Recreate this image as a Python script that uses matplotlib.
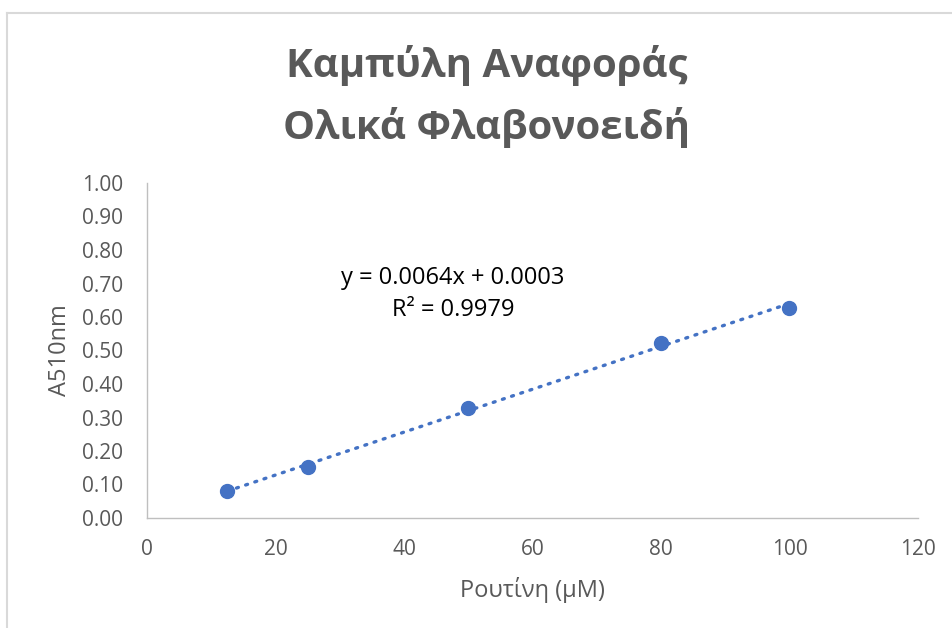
import numpy as np
import matplotlib
matplotlib.use("Agg")
import matplotlib.pyplot as plt
from matplotlib.lines import Line2D

plt.rcParams['font.family'] = ['Open Sans', 'DejaVu Sans']

# Calibration data: rutin concentration vs absorbance at 510 nm
concentration = [12.5, 25, 50, 80, 100]
absorbance = [0.080, 0.153, 0.328, 0.523, 0.628]

# Linear trendline parameters
slope = 0.0064
intercept = 0.0003
r_squared = 0.9979

x_ticks = [0, 20, 40, 60, 80, 100, 120]
y_ticks = [0.0, 0.1, 0.2, 0.3, 0.4, 0.5, 0.6, 0.7, 0.8, 0.9, 1.0]

title_lines = ["Καμπύλη Αναφοράς", "Ολικά Φλαβονοειδή"]
x_label = "Ρουτίνη (μΜ)"
y_label = "A510nm"

blue = "#4472C4"
grey_text = "#595959"
axis_grey = "#BFBFBF"

W, H = 953, 628
fig = plt.figure(figsize=(W / 100, H / 100), dpi=100)
ax = fig.add_axes([147 / W, 1 - 518 / H, (918 - 147) / W, (518 - 183) / H])

# Trendline
xt = np.array([min(concentration), max(concentration)])
ax.plot(xt, slope * xt + intercept, linestyle=(0, (0.6, 2.3)), color=blue,
        linewidth=2.4, dash_capstyle='round', zorder=2)

# Data points
ax.plot(concentration, absorbance, linestyle='none', marker='o', markersize=10,
        color=blue, zorder=3)

ax.set_xlim(0, 120)
ax.set_ylim(0, 1.0)
ax.set_xticks(x_ticks)
ax.set_yticks(y_ticks)
ax.set_yticklabels([f"{v:.2f}" for v in y_ticks])
ax.tick_params(axis='both', length=0, labelsize=15, colors=grey_text)
ax.tick_params(axis='x', pad=15)
ax.tick_params(axis='y', pad=17)

for side in ['top', 'right']:
    ax.spines[side].set_visible(False)
for side in ['left', 'bottom']:
    ax.spines[side].set_color(axis_grey)
    ax.spines[side].set_linewidth(1.0)

ax.set_xlabel(x_label, fontsize=17, color=grey_text, va='center')
ax.set_ylabel(y_label, fontsize=17, color=grey_text, va='center')
ax.xaxis.set_label_coords(0.5, (518 - 590) / 335)
ax.yaxis.set_label_coords((60 - 147) / 771, 0.5)

# Equation annotation
ax.text(47.6, 0.716, f"y = {slope}x + {intercept}", ha='center', va='center',
        fontsize=17, color='black')
ax.text(47.6, 0.621, f"R² = {r_squared}", ha='center', va='center',
        fontsize=17, color='black')

for line, ypix in zip(title_lines, [65, 128]):
    fig.text(487 / W, 1 - ypix / H, line, ha='center', va='center',
             fontsize=29, fontweight='bold', color=grey_text)

# Chart area border (top and left edges)
fig.add_artist(Line2D([7 / W, 1], [1 - 13 / H, 1 - 13 / H],
                      transform=fig.transFigure, color="#D9D9D9", linewidth=1.5))
fig.add_artist(Line2D([7 / W, 7 / W], [0, 1 - 13 / H],
                      transform=fig.transFigure, color="#D9D9D9", linewidth=1.5))

fig.savefig("out.png", dpi=100)
